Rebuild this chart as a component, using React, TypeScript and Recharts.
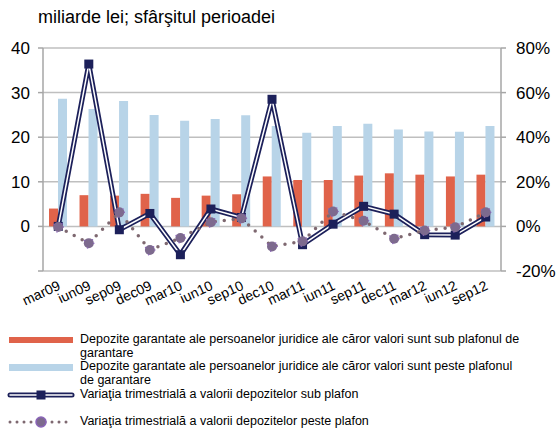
import React from "react";
import { ComposedChart, Bar, Line, XAxis, YAxis, CartesianGrid } from "recharts";

const categories = ["mar09", "iun09", "sep09", "dec09", "mar10", "iun10", "sep10", "dec10", "mar11", "iun11", "sep11", "dec11", "mar12", "iun12", "sep12"];
// miliarde lei
const subPlafon = [4.0, 7.0, 6.9, 7.3, 6.4, 6.9, 7.2, 11.2, 10.4, 10.4, 11.4, 11.9, 11.6, 11.2, 11.6];
const pestePlafon = [28.6, 26.3, 28.1, 25.0, 23.7, 24.1, 24.9, 22.5, 21.0, 22.5, 23.0, 21.7, 21.3, 21.2, 22.5];
// variatie trimestriala, %
const varSub = [0, 72.8, -1.5, 5.8, -12.7, 7.8, 4.0, 57.0, -8.2, 1.0, 9.0, 5.5, -3.7, -3.9, 4.2];
const varPeste = [-0.3, -7.5, 6.3, -10.6, -5.2, 1.9, 3.6, -9.0, -6.7, 6.7, 2.5, -5.5, -1.8, -0.4, 6.3];

const leftTicks = [-10, 0, 10, 20, 30, 40];
const rightTicks = [-20, 0, 20, 40, 60, 80];

const ORANGE = "#E0634A";
const BLUE = "#B8D4E8";
const NAVY = "#1C205A";
const DOT_LINE = "#7E6870";
const FONT = "'Liberation Sans', Arial, sans-serif";

const data = categories.map((c, i) => ({
  c,
  sub: subPlafon[i],
  peste: pestePlafon[i],
  vSub: varSub[i],
  vPeste: varPeste[i],
}));

const CatTick = ({ x, y, payload }: any) => (
  <text
    x={x + 3}
    y={y + 18}
    transform={`rotate(-25, ${x + 3}, ${y + 18})`}
    textAnchor="end"
    fontSize={14}
    fontFamily={FONT}
    fill="#000"
  >
    {payload.value}
  </text>
);

const Square = ({ cx, cy, index }: any) => (
  <rect key={index} x={cx - 4.5} y={cy - 4.5} width={9} height={9} fill={NAVY} />
);

const legendText: React.CSSProperties = {
  position: "absolute",
  left: 80,
  fontSize: 12.5,
  lineHeight: "13.5px",
  color: "#000",
  whiteSpace: "nowrap",
};

export default function App() {
  return (
    <div style={{ position: "absolute", left: 0, top: 0, width: 559, height: 430, background: "#fff", fontFamily: FONT }}>
      <div style={{ position: "absolute", left: 38, top: 7, fontSize: 18, color: "#000", whiteSpace: "nowrap" }}>
        miliarde lei; sfârşitul perioadei
      </div>
      <ComposedChart
        width={559}
        height={320}
        data={data}
        margin={{ top: 48, right: 0, bottom: 0, left: 0 }}
        barGap={0}
        style={{ position: "absolute", left: 0, top: 0 }}
      >
        <CartesianGrid vertical={false} yAxisId="left" stroke="#BFBFBF" strokeWidth={1.5} />
        <XAxis dataKey="c" height={49} interval={0} axisLine={false} tickLine={false} tickSize={0} tickMargin={0} tick={<CatTick />} />
        <YAxis
          yAxisId="left"
          width={43}
          domain={[-10, 40]}
          ticks={leftTicks}
          tickFormatter={(v: number) => (v < 0 ? "" : String(v))}
          axisLine={{ stroke: "#A6A6A6", strokeWidth: 1.5 }}
          tickLine={{ stroke: "#A6A6A6", strokeWidth: 1.5 }}
          tickSize={5}
          tickMargin={8}
          tick={{ fontSize: 17, fill: "#000", fontFamily: FONT }}
        />
        <YAxis
          yAxisId="right"
          orientation="right"
          width={58}
          domain={[-20, 80]}
          ticks={rightTicks}
          tickFormatter={(v: number) => `${v}%`}
          axisLine={{ stroke: "#A6A6A6", strokeWidth: 1.5 }}
          tickLine={{ stroke: "#A6A6A6", strokeWidth: 1.5 }}
          tickSize={5}
          tickMargin={10}
          tick={{ fontSize: 17, fill: "#000", fontFamily: FONT }}
        />
        <Bar yAxisId="left" dataKey="sub" fill={ORANGE} barSize={9} isAnimationActive={false} />
        <Bar yAxisId="left" dataKey="peste" fill={BLUE} barSize={9} isAnimationActive={false} />
        <Line yAxisId="right" dataKey="vSub" stroke={NAVY} strokeWidth={5} dot={false} activeDot={false} isAnimationActive={false} />
        <Line yAxisId="right" dataKey="vSub" stroke="#fff" strokeWidth={1.5} dot={<Square />} activeDot={false} isAnimationActive={false} />
        <Line
          yAxisId="right"
          dataKey="vPeste"
          stroke={DOT_LINE}
          strokeWidth={3.5}
          strokeDasharray="0 9"
          strokeLinecap="round"
          dot={{ r: 5, fill: "#7D6A8E", stroke: "#8A64B8", strokeWidth: 1.5 }}
          activeDot={false}
          isAnimationActive={false}
        />
      </ComposedChart>

      <svg width={80} height={100} style={{ position: "absolute", left: 0, top: 330 }}>
        <rect x={9} y={7} width={64} height={6} fill={ORANGE} />
        <rect x={9} y={34} width={64} height={7} fill={BLUE} />
        <line x1={10} y1={65} x2={72} y2={65} stroke={NAVY} strokeWidth={5} strokeLinecap="round" />
        <line x1={10} y1={65} x2={72} y2={65} stroke="#fff" strokeWidth={1.5} strokeLinecap="round" />
        <rect x={36.5} y={60.5} width={9} height={9} fill={NAVY} />
        <line x1={10} y1={92} x2={72} y2={92} stroke={DOT_LINE} strokeWidth={3} strokeDasharray="0 7" strokeLinecap="round" />
        <circle cx={41} cy={92} r={5} fill="#7D6A8E" stroke="#8A64B8" strokeWidth={1.5} />
      </svg>
      <div style={{ ...legendText, top: 333 }}>
        Depozite garantate ale persoanelor juridice ale căror valori sunt sub plafonul de
        <br />
        garantare
      </div>
      <div style={{ ...legendText, top: 360 }}>
        Depozite garantate ale persoanelor juridice ale căror valori sunt peste plafonul
        <br />
        de garantare
      </div>
      <div style={{ ...legendText, top: 388 }}>Variaţia trimestrială a valorii depozitelor sub plafon</div>
      <div style={{ ...legendText, top: 415 }}>Variaţia trimestrială a valorii depozitelor peste plafon</div>
    </div>
  );
}
